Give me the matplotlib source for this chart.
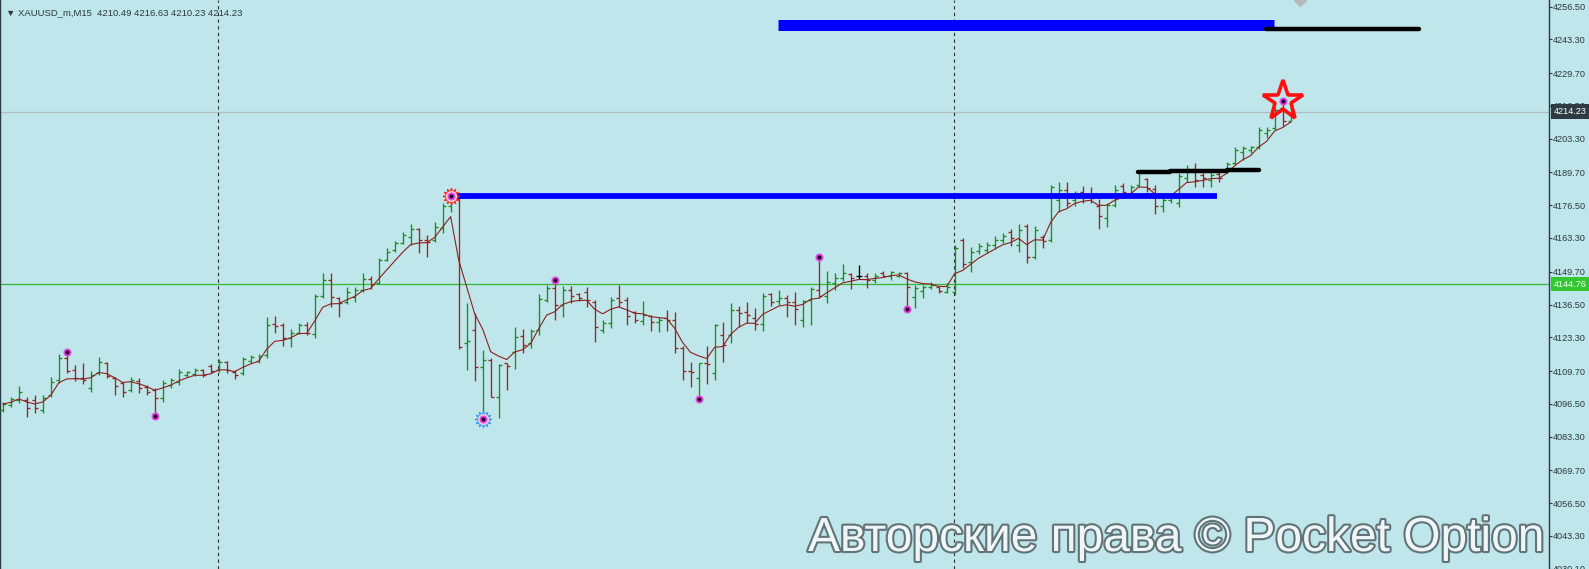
import matplotlib.pyplot as plt
import matplotlib.patheffects as pe
import numpy as np
import pandas as pd

# XAUUSD M15 bars
opens = [4094.0, 4096.0, 4098.1, 4098.1, 4098.1, 4094.0, 4100.1, 4106.1, 4115.0, 4110.1,
         4106.9, 4102.9, 4108.9, 4113.0, 4106.9, 4104.9, 4102.1, 4105.7, 4103.3, 4102.1,
         4098.9, 4104.1, 4105.3, 4108.1, 4108.5, 4110.1, 4111.7, 4110.1, 4113.4, 4109.3,
         4108.9, 4113.8, 4113.8, 4116.2, 4128.7, 4128.3, 4123.0, 4125.0, 4128.3, 4124.6,
         4139.9, 4146.4, 4139.1, 4137.5, 4139.5, 4142.4, 4146.8, 4145.2, 4154.4, 4158.5,
         4161.3, 4163.7, 4166.9, 4162.5, 4162.5, 4167.3, 4176.2, 4179.0, 4121.0, 4126.2,
         4111.3, 4114.2, 4099.3, 4113.0, 4117.4, 4123.8, 4121.0, 4126.2, 4138.3, 4143.2,
         4136.3, 4142.4, 4140.7, 4141.5, 4137.5, 4126.2, 4129.1, 4139.1, 4138.3, 4133.5,
         4129.9, 4131.9, 4129.5, 4131.1, 4130.3, 4119.0, 4109.7, 4106.9, 4113.0, 4108.9,
         4124.2, 4124.2, 4134.3, 4133.5, 4131.1, 4128.7, 4140.7, 4137.9, 4139.1, 4137.5,
         4130.3, 4138.3, 4142.4, 4139.9, 4145.2, 4147.2, 4148.8, 4148.0, 4148.0, 4146.4,
         4149.2, 4148.0, 4148.0, 4149.2, 4139.5, 4141.9, 4143.6, 4143.6, 4141.5, 4141.5,
         4162.5, 4153.6, 4158.1, 4158.5, 4160.5, 4162.5, 4165.7, 4160.5, 4168.1, 4155.6,
         4163.7, 4162.5, 4178.6, 4182.6, 4178.6, 4181.8, 4181.0, 4176.2, 4171.3, 4176.6,
         4184.2, 4181.4, 4184.6, 4187.1, 4183.0, 4176.2, 4178.6, 4177.4, 4187.5, 4191.1,
         4188.7, 4186.6, 4189.1, 4190.3, 4193.5, 4197.9, 4198.7, 4199.9, 4205.6, 4207.6,
         4215.6, 4210.49]
highs = [4097.2, 4099.3, 4103.7, 4099.3, 4100.1, 4100.1, 4107.3, 4116.6, 4117.4, 4112.1,
         4113.0, 4109.7, 4115.4, 4113.4, 4107.3, 4105.3, 4107.3, 4106.9, 4104.1, 4102.9,
         4106.1, 4106.9, 4110.5, 4109.7, 4110.9, 4110.5, 4112.5, 4114.6, 4113.8, 4110.1,
         4115.4, 4116.2, 4116.6, 4131.5, 4131.9, 4129.1, 4126.6, 4129.1, 4129.5, 4140.7,
         4149.2, 4149.2, 4139.5, 4143.6, 4143.6, 4149.2, 4148.0, 4155.2, 4159.3, 4162.1,
         4165.7, 4168.9, 4167.3, 4164.5, 4169.7, 4177.4, 4181.8, 4179.8, 4137.1, 4133.1,
         4118.2, 4115.0, 4112.5, 4113.0, 4127.4, 4126.6, 4126.6, 4140.7, 4144.4, 4146.4,
         4144.0, 4144.0, 4141.1, 4143.6, 4138.3, 4130.3, 4139.5, 4144.4, 4139.5, 4133.9,
         4137.9, 4132.3, 4131.5, 4134.3, 4133.5, 4119.8, 4113.4, 4113.0, 4119.8, 4128.7,
         4129.5, 4137.1, 4135.9, 4137.5, 4135.1, 4141.1, 4141.1, 4142.4, 4140.3, 4141.5,
         4138.3, 4143.6, 4155.6, 4150.0, 4149.2, 4152.8, 4149.2, 4152.4, 4149.2, 4149.2,
         4150.0, 4150.0, 4149.6, 4149.6, 4144.4, 4144.4, 4145.6, 4143.6, 4145.2, 4160.5,
         4163.3, 4159.7, 4161.3, 4161.7, 4164.1, 4165.3, 4166.9, 4168.9, 4168.9, 4168.1,
         4164.5, 4184.6, 4185.8, 4185.8, 4182.2, 4184.2, 4183.8, 4179.0, 4177.4, 4184.6,
         4185.4, 4184.6, 4190.7, 4187.5, 4184.6, 4180.6, 4180.6, 4189.5, 4192.7, 4193.5,
         4189.5, 4190.7, 4189.9, 4193.9, 4199.9, 4200.3, 4200.3, 4208.0, 4208.0, 4216.0,
         4219.7, 4216.63]
lows = [4093.2, 4095.2, 4096.8, 4091.2, 4092.8, 4092.8, 4099.3, 4104.9, 4108.9, 4105.7,
        4104.5, 4101.3, 4108.1, 4106.9, 4100.1, 4099.3, 4101.3, 4100.9, 4100.1, 4091.6,
        4097.2, 4102.9, 4104.1, 4107.3, 4107.7, 4107.3, 4108.9, 4109.3, 4108.9, 4106.5,
        4108.1, 4113.0, 4113.0, 4115.0, 4125.0, 4119.8, 4119.4, 4124.6, 4124.2, 4123.0,
        4139.1, 4135.5, 4131.5, 4136.7, 4137.5, 4141.5, 4142.8, 4144.8, 4154.0, 4157.7,
        4160.9, 4160.5, 4157.3, 4155.6, 4161.7, 4165.3, 4173.8, 4118.6, 4110.1, 4105.7,
        4090.4, 4099.3, 4090.8, 4102.1, 4110.5, 4117.0, 4119.0, 4124.2, 4137.5, 4130.3,
        4131.5, 4137.1, 4137.9, 4135.5, 4121.4, 4125.0, 4127.0, 4135.5, 4128.3, 4129.1,
        4128.3, 4125.8, 4125.4, 4125.8, 4117.0, 4106.1, 4103.3, 4098.5, 4104.5, 4106.1,
        4113.4, 4121.0, 4127.4, 4129.1, 4126.2, 4125.8, 4135.9, 4136.3, 4131.5, 4128.3,
        4127.4, 4128.3, 4139.1, 4137.1, 4142.4, 4146.0, 4142.8, 4146.8, 4143.2, 4145.2,
        4147.6, 4146.4, 4147.6, 4134.7, 4135.1, 4139.1, 4142.8, 4141.1, 4141.1, 4140.3,
        4151.2, 4149.6, 4156.8, 4157.3, 4158.9, 4161.3, 4160.1, 4157.7, 4153.2, 4154.8,
        4159.3, 4161.7, 4173.8, 4175.8, 4176.2, 4177.4, 4177.4, 4166.9, 4167.7, 4175.8,
        4179.4, 4179.4, 4183.8, 4181.8, 4173.0, 4173.8, 4177.4, 4175.8, 4185.8, 4183.8,
        4183.8, 4183.8, 4185.8, 4189.5, 4192.7, 4194.7, 4197.5, 4199.1, 4203.6, 4206.8,
        4208.4, 4210.23]
closes = [4096.4, 4098.5, 4101.3, 4094.8, 4094.8, 4098.9, 4105.3, 4115.0, 4109.7, 4106.9,
          4106.1, 4108.1, 4113.4, 4107.7, 4103.7, 4101.3, 4106.1, 4102.9, 4101.3, 4098.9,
          4104.9, 4106.1, 4109.3, 4109.3, 4110.1, 4108.1, 4109.7, 4113.4, 4110.1, 4108.1,
          4114.6, 4115.4, 4115.8, 4128.3, 4127.9, 4123.0, 4125.0, 4128.3, 4125.0, 4139.9,
          4146.4, 4139.5, 4137.1, 4141.5, 4142.4, 4146.8, 4144.8, 4154.4, 4157.7, 4161.3,
          4164.5, 4166.9, 4162.5, 4161.7, 4167.7, 4176.2, 4180.2, 4119.4, 4121.8, 4111.3,
          4114.2, 4099.3, 4112.1, 4111.7, 4123.4, 4120.2, 4125.8, 4138.7, 4143.2, 4136.3,
          4142.4, 4139.9, 4139.1, 4138.3, 4127.4, 4129.1, 4138.3, 4137.5, 4131.9, 4130.3,
          4132.3, 4129.5, 4130.3, 4130.3, 4119.0, 4109.7, 4109.3, 4113.0, 4112.6, 4128.3,
          4120.2, 4134.3, 4133.1, 4132.3, 4128.7, 4139.9, 4137.5, 4139.1, 4137.5, 4134.7,
          4137.9, 4142.8, 4139.9, 4145.6, 4147.2, 4149.2, 4147.2, 4148.0, 4146.4, 4148.0,
          4148.0, 4149.6, 4149.2, 4143.6, 4143.2, 4143.6, 4144.4, 4141.9, 4143.6, 4159.3,
          4152.8, 4157.7, 4160.1, 4160.5, 4162.5, 4164.1, 4163.3, 4166.5, 4155.6, 4166.5,
          4162.1, 4183.8, 4182.6, 4177.4, 4181.4, 4179.8, 4179.4, 4172.2, 4176.6, 4182.6,
          4181.8, 4183.8, 4189.5, 4183.4, 4176.2, 4178.6, 4179.8, 4188.3, 4191.1, 4186.6,
          4187.5, 4188.7, 4187.5, 4193.1, 4198.7, 4199.5, 4199.9, 4206.8, 4206.8, 4214.8,
          4210.5, 4214.23]

y_ticks = [4256.5, 4243.3, 4229.7, 4216.5, 4203.3, 4189.7, 4176.5, 4163.3, 4149.7,
           4136.5, 4123.3, 4109.7, 4096.5, 4083.3, 4069.7, 4056.5, 4043.3, 4030.1]

bid_price = 4214.23
green_level = 4144.76
separators = [26.9, 118.9]

# signal dots (bar index, price)
sig_bars = [8, 19, 56, 60, 69, 87, 102, 113, 160]
sig_prices = [4117.4, 4091.6, 4180.2, 4090.4, 4146.4, 4098.5, 4155.6, 4134.7, 4218.5]

# zones: (from bar, to bar, price)
blue_levels = [(56, 151.8, 4180.2), (96.9, 158.9, 4248.9)]
black_levels = [(141.9, 145.9, 4189.9), (145.9, 153.1, 4190.4), (153.1, 157.0, 4190.7),
                (157.9, 177.0, 4247.3)]

bg = '#bfe6ea'
up_col = '#1f8a1f'
dn_col = '#962626'
axis_col = '#2b3a3e'

fig = plt.figure(figsize=(15.89, 5.69), dpi=100, facecolor=bg)
ax = fig.add_axes([0, 0, 1549 / 1589, 1])
ax.set_facecolor(bg)
ax.set_xlim(-0.34, 193.3)
ax.set_ylim(4030.0, 4259.13)

x = np.arange(len(opens))
cols = [up_col if c > o else (dn_col if c < o else 'black') for o, c in zip(opens, closes)]

ax.axhline(bid_price, color='#b3bcbf', lw=0.9, zorder=1)
ax.axhline(green_level, color='#35b835', lw=0.9, zorder=1)
for s in separators:
    ax.axvline(s, color='#333333', lw=0.8, ls=(0, (3, 3)), zorder=1)

ax.vlines(x, lows, highs, colors=cols, lw=0.95, zorder=3)
ax.hlines(opens, x - 0.38, x, colors=cols, lw=0.95, zorder=3)
ax.hlines(closes, x, x + 0.38, colors=cols, lw=0.95, zorder=3)

ma = pd.Series(closes).ewm(span=5, adjust=False).mean()
ax.plot(x, ma, color='#8e1f1f', lw=0.8, zorder=4)

ax.plot([blue_levels[0][0], blue_levels[0][1]], [blue_levels[0][2]] * 2, color='#0000ff',
        lw=4.2, solid_capstyle='butt', zorder=5)
ax.plot([blue_levels[1][0], blue_levels[1][1]], [blue_levels[1][2]] * 2, color='#0000ff',
        lw=7.9, solid_capstyle='butt', zorder=5)
for x0, x1, p in black_levels:
    ax.plot([x0, x1], [p, p], color='black', lw=3.2, solid_capstyle='round', zorder=6)

# sun markers at the swing high / low
ax.plot(56, 4180.2, marker=(12, 1, 0), ms=12, color='#ff2a1a', zorder=7)
ax.plot(60, 4090.4, marker=(12, 1, 0), ms=12, color='#3a9cff', zorder=7)
ax.plot([56, 60], [4180.2, 4090.4], 'o', ms=7, color='#ffd0e0', zorder=8)
# big star on last signal
ax.plot(160, 4218.5, marker='*', ms=30, mfc='none', mec='#ff1010', mew=2.6, zorder=7)

ax.plot(sig_bars, sig_prices, 'o', ms=5, mfc='#cc22cc', mec='#e050e0', mew=0.8, zorder=9)
ax.plot(sig_bars, sig_prices, 'o', ms=1.6, color='#200020', zorder=10)

ax.plot(162.2, 4259.13, marker='D', ms=6, color='#b8b8b8', clip_on=True, zorder=5)

ax.yaxis.tick_right()
ax.set_yticks(y_ticks)
ax.set_yticklabels([f'{v:.2f}' for v in y_ticks], family=['Liberation Sans', 'DejaVu Sans'])
ax.tick_params(axis='y', direction='out', length=2, width=0.8, color=axis_col,
               labelsize=6.6, labelcolor=axis_col, pad=1)
ax.set_xticks([])
for side in ['top', 'bottom']:
    ax.spines[side].set_visible(False)
for side in ['left', 'right']:
    ax.spines[side].set_color(axis_col)
    ax.spines[side].set_linewidth(1)

for price, fc in [(bid_price, '#2e3c41'), (green_level, '#32c832')]:
    ax.annotate(f'{price:.2f}', xy=(1.0, price), xycoords=('axes fraction', 'data'),
                xytext=(3.2, 0), textcoords='offset points', ha='left', va='center',
                fontsize=6.6, color='white', zorder=20, annotation_clip=False,
                family=['Liberation Sans', 'DejaVu Sans'],
                bbox=dict(boxstyle='square,pad=0.3', fc=fc, ec='none'))

ax.text(0.004, 0.985, '▼ XAUUSD_m,M15  4210.49 4216.63 4210.23 4214.23', transform=ax.transAxes,
        ha='left', va='top', fontsize=6.8, color=axis_col, family=['Liberation Sans', 'DejaVu Sans'])

fig.text(808 / 1589, 1 - 551 / 569, 'Авторские права © Pocket Option', ha='left', va='baseline',
         fontsize=34.5, family=['Liberation Sans', 'DejaVu Sans'], color='#eef6f7', zorder=30,
         path_effects=[pe.withStroke(linewidth=3, foreground='#627378')])

fig.savefig('out.png', dpi=100, facecolor=bg)
